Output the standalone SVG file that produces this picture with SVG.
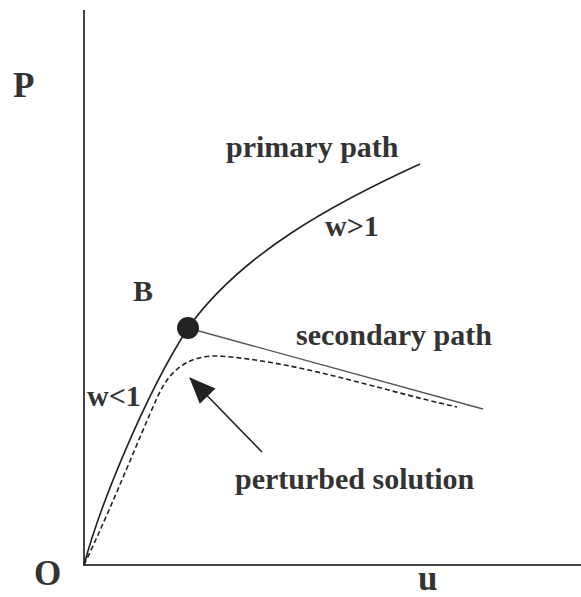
<svg xmlns="http://www.w3.org/2000/svg" width="581" height="597" viewBox="0 0 581 597">
<style>
text{font-family:"Liberation Serif","Times New Roman",serif;font-weight:bold;fill:#333}
.lbl{font-size:30px}
.ax{font-size:35px}
.ln{fill:none;stroke:#222;stroke-width:1.6}
</style>
<defs>
<marker id="ah2" viewBox="0 0 24 20" refX="23" refY="10" markerWidth="28" markerHeight="22" markerUnits="userSpaceOnUse" orient="auto">
<path d="M0,0 L24,10 L0,20 z" fill="#222"/>
</marker>
</defs>
<g id="axes">
<path d="M84,10 L84,565 L581,565" fill="none" stroke="#444" stroke-width="2"/>
</g>
<g id="connectors">
<path class="ln" d="M84,565 C100,505 145,395 188,328 C240,255 330,205 420,164"/>
<path d="M188,328 L483,409" fill="none" stroke="#555" stroke-width="1.4"/>
<path class="ln" stroke-dasharray="5,3" d="M84,565 C114,502 138,440 157,398 C170,368 190,355 220,356 C300,362 380,390 457,407"/>
<path class="ln" d="M262,452 L190,378" marker-end="url(#ah2)"/>
</g>
<g id="B"><circle cx="188" cy="328" r="11" fill="#222"/><text class="lbl" x="133" y="301">B</text></g>
<g id="labels">
<text class="ax" x="13" y="97">P</text>
<text class="ax" x="34" y="585">O</text>
<text class="ax" x="418" y="590">u</text>
<text class="lbl" x="226" y="157">primary path</text>
<text class="lbl" x="325" y="236">w&gt;1</text>
<text class="lbl" x="296" y="345">secondary path</text>
<text class="lbl" x="87" y="406">w&lt;1</text>
<text class="lbl" x="235" y="489">perturbed solution</text>
</g>
</svg>
